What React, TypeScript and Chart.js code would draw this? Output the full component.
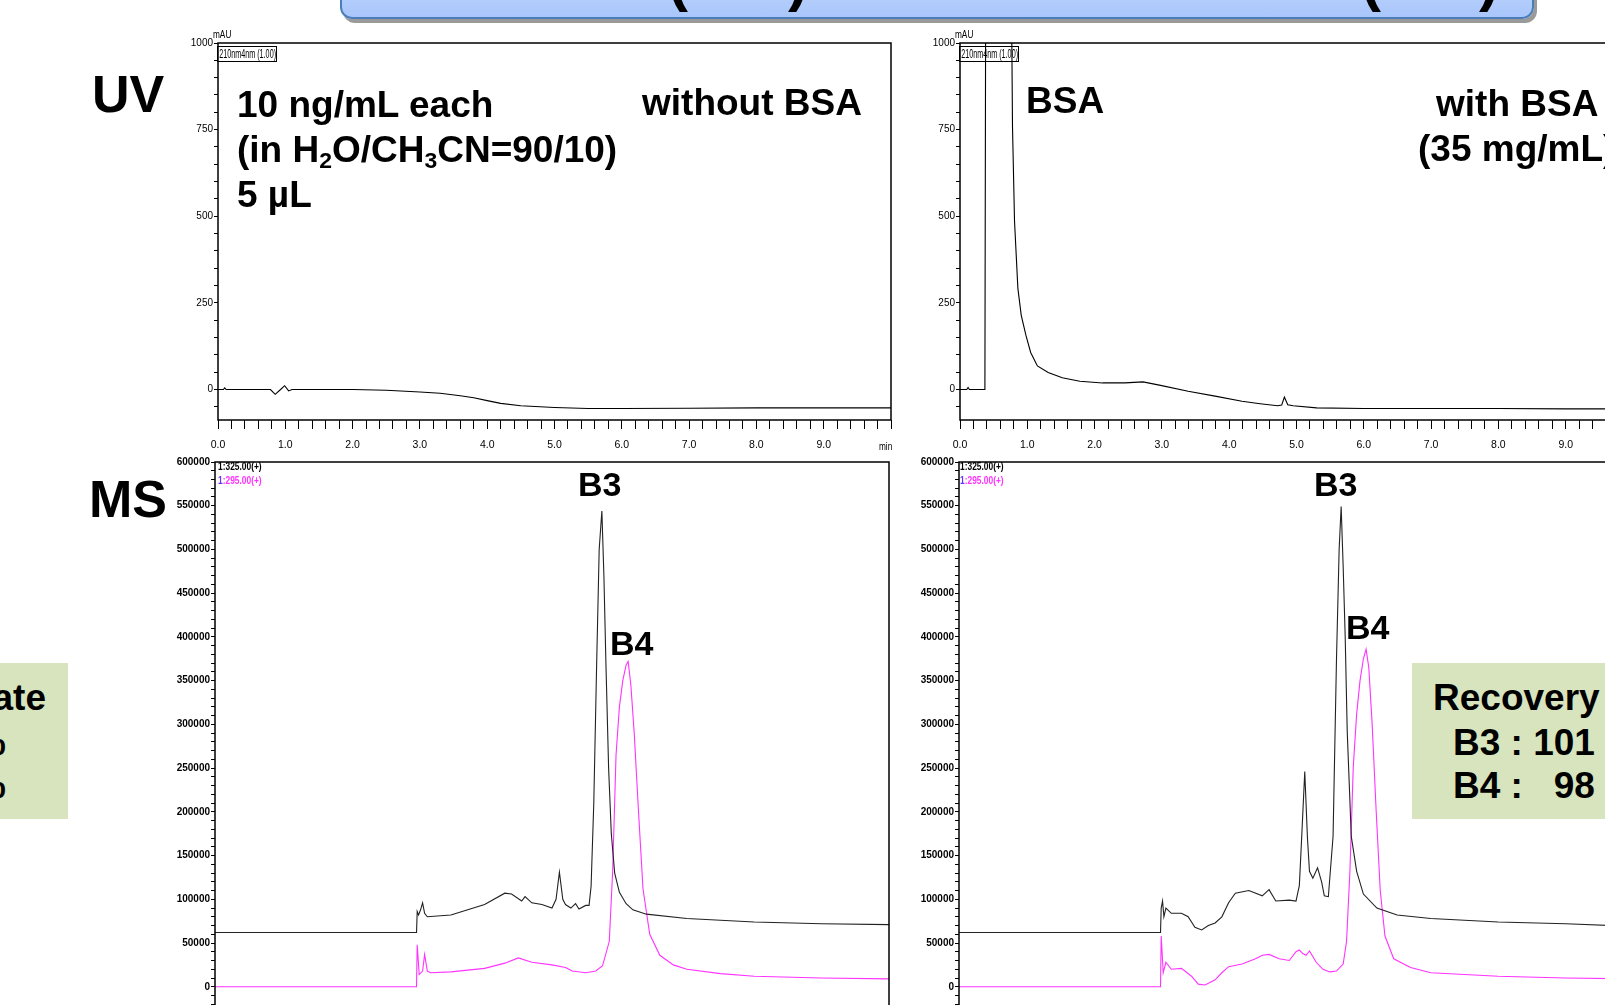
import React, { useEffect, useRef } from 'react';
import { Chart, registerables } from 'chart.js';
Chart.register(...registerables);

// ---------------- DATA ----------------
// UV 210 nm, without BSA (time in min, absorbance in mAU)
const uvNoBsaTime = [0, 0.08, 0.1, 0.12, 0.5, 0.78, 0.85, 0.93, 0.99, 1.05, 1.1, 1.5, 2.0, 2.5, 3.0, 3.3, 3.6, 3.8, 4.0, 4.2, 4.5, 5.0, 5.5, 6.0, 7.0, 8.0, 9.0, 10.0];
const uvNoBsaAbs = [0, 0, 5, 0, 0, 0, -14, 0, 11, -4, 0, 0, 0, -2, -7, -11, -18, -24, -32, -40, -47, -52, -55, -55, -54, -53, -53, -53];

// UV 210 nm, with BSA
const uvBsaTime = [0, 0.1, 0.12, 0.14, 0.37, 0.385, 0.75, 0.78, 0.81, 0.86, 0.91, 0.98, 1.05, 1.15, 1.31, 1.52, 1.78, 2.12, 2.45, 2.72, 2.98, 3.39, 3.79, 4.19, 4.46, 4.72, 4.78, 4.82, 4.87, 4.95, 5.3, 6.0, 7.0, 8.0, 9.0, 10.0];
const uvBsaAbs = [0, 0, 6, 0, 0, 1500, 1500, 760, 486, 292, 214, 156, 107, 68, 49, 34, 24, 19, 19, 22, 12, -5, -19, -34, -41, -47, -45, -22, -44, -47, -53, -55, -55, -55, -56, -56];

// MS, without BSA: m/z 325.00 (B3, black) and m/z 295.00 (B4, magenta)
const msNoBsaB3Time = [0, 2.99, 3.0, 3.02, 3.05, 3.08, 3.11, 3.15, 3.5, 4.0, 4.3, 4.4, 4.55, 4.6, 4.7, 4.85, 5.0, 5.06, 5.11, 5.16, 5.2, 5.28, 5.35, 5.4, 5.5, 5.55, 5.58, 5.62, 5.66, 5.7, 5.74, 5.77, 5.8, 5.84, 5.88, 5.93, 6.0, 6.1, 6.2, 6.4, 7.0, 8.0, 9.0, 10.0];
const msNoBsaB3Int = [62000, 62000, 86000, 82000, 88000, 96000, 84000, 80000, 82000, 94000, 107000, 106000, 98000, 103000, 96000, 94000, 90000, 100000, 131000, 100000, 94000, 90000, 95000, 89000, 93000, 93000, 115000, 210000, 360000, 500000, 544000, 470000, 370000, 250000, 175000, 130000, 108000, 95000, 88000, 83000, 78000, 74000, 72000, 71000];
const msNoBsaB4Time = [0, 2.99, 3.0, 3.03, 3.08, 3.11, 3.15, 3.2, 3.5, 4.0, 4.3, 4.5, 4.7, 5.0, 5.2, 5.3, 5.5, 5.65, 5.75, 5.85, 5.9, 5.95, 6.0, 6.05, 6.1, 6.13, 6.17, 6.22, 6.28, 6.35, 6.45, 6.6, 6.8, 7.0, 7.5, 8.0, 9.0, 10.0];
const msNoBsaB4Int = [0, 0, 48000, 14000, 18000, 37000, 18000, 16000, 17000, 21000, 27000, 33000, 28000, 25000, 22000, 18000, 16000, 18000, 24000, 52000, 132000, 265000, 320000, 350000, 368000, 372000, 345000, 290000, 205000, 112000, 60000, 36000, 25000, 20000, 15000, 12000, 10000, 9000];

// MS, with BSA
const msBsaB3Time = [0, 2.99, 3.0, 3.02, 3.04, 3.07, 3.15, 3.3, 3.4, 3.5, 3.6, 3.7, 3.8, 3.9, 4.0, 4.1, 4.3, 4.5, 4.6, 4.7, 4.9, 5.0, 5.05, 5.09, 5.13, 5.17, 5.2, 5.25, 5.32, 5.38, 5.42, 5.48, 5.55, 5.6, 5.64, 5.67, 5.7, 5.73, 5.76, 5.82, 5.9, 6.0, 6.2, 6.5, 7.0, 8.0, 9.0, 10.0];
const msBsaB3Int = [62000, 62000, 90000, 98000, 80000, 90000, 84000, 84000, 80000, 68000, 65000, 70000, 73000, 80000, 96000, 107000, 110000, 104000, 111000, 98000, 99000, 98000, 116000, 180000, 246000, 170000, 132000, 124000, 136000, 120000, 104000, 103000, 172000, 372000, 500000, 549000, 480000, 400000, 292000, 172000, 132000, 106000, 90000, 82000, 78000, 74000, 72000, 69000];
const msBsaB4Time = [0, 2.99, 3.0, 3.03, 3.07, 3.15, 3.3, 3.45, 3.55, 3.65, 3.8, 3.9, 4.0, 4.2, 4.4, 4.5, 4.6, 4.75, 4.9, 5.0, 5.05, 5.1, 5.15, 5.2, 5.3, 5.4, 5.5, 5.6, 5.7, 5.75, 5.8, 5.85, 5.9, 5.95, 6.0, 6.04, 6.08, 6.13, 6.19, 6.25, 6.32, 6.45, 6.7, 7.0, 8.0, 9.0, 10.0];
const msBsaB4Int = [0, 0, 58000, 16000, 28000, 20000, 21000, 12000, 3000, 2000, 8000, 16000, 23000, 26000, 32000, 36000, 37000, 32000, 30000, 40000, 42000, 38000, 36000, 41000, 28000, 20000, 17000, 18000, 26000, 52000, 132000, 252000, 312000, 350000, 375000, 386000, 365000, 300000, 200000, 110000, 58000, 32000, 22000, 16000, 12000, 10000, 9000];

// Tick labels
const uvXTickLabels = ['0.0', '1.0', '2.0', '3.0', '4.0', '5.0', '6.0', '7.0', '8.0', '9.0'];
const uvYTickLabels = [0, 250, 500, 750, 1000];
const msYTickLabels = [0, 50000, 100000, 150000, 200000, 250000, 300000, 350000, 400000, 450000, 500000, 550000, 600000];

// ---------------- STYLE ----------------
const ARIAL = "'Liberation Sans', Arial, Helvetica, sans-serif";
const MAGENTA = '#ff33ff';
const PAD_T = 10;
const PAD_R = 10;

const framePlugin = {
  id: 'frame',
  afterDraw(chart: any) {
    const { ctx, chartArea: a } = chart;
    ctx.save();
    ctx.strokeStyle = '#000';
    ctx.lineWidth = 1.5;
    ctx.strokeRect(a.left, a.top, a.right - a.left, a.bottom - a.top);
    ctx.restore();
  },
};

type Series = { t: number[]; v: number[]; color: string };
type PanelProps = {
  areaL: number; areaT: number; areaW: number; areaH: number;
  yW: number; xH: number; showX: boolean;
  yMin: number; yMax: number; yStep: number; yLabels: number[];
  yFont: any; series: Series[];
};

function Panel(p: PanelProps) {
  const ref = useRef<HTMLCanvasElement>(null);
  const width = p.yW + p.areaW + PAD_R;
  const height = PAD_T + p.areaH + (p.showX ? p.xH : 2);
  useEffect(() => {
    const c = ref.current!;
    const chart = new Chart(c, {
      type: 'line',
      data: {
        datasets: p.series.map((s) => ({
          data: s.t.map((x, i) => ({ x, y: s.v[i] })),
          borderColor: s.color,
          borderWidth: 1.1,
          pointRadius: 0,
          tension: 0,
          fill: false,
        })),
      },
      options: {
        responsive: false,
        animation: false,
        devicePixelRatio: 1,
        events: [],
        layout: { padding: { top: PAD_T, right: PAD_R, left: 0, bottom: p.showX ? 0 : 2 } },
        plugins: { legend: { display: false }, tooltip: { enabled: false } },
        scales: {
          x: {
            type: 'linear',
            min: 0,
            max: 10,
            display: p.showX,
            afterBuildTicks: (s: any) => {
              const arr = [];
              for (let i = 0; i <= 50; i++) arr.push({ value: Math.round(i * 2) / 10 });
              s.ticks = arr;
            },
            afterFit: (s: any) => { s.height = p.xH; },
            grid: { display: true, drawOnChartArea: false, drawTicks: true, tickLength: 9, tickColor: '#000', color: '#000', lineWidth: 1 },
            border: { display: false },
            ticks: {
              autoSkip: false,
              maxRotation: 0,
              minRotation: 0,
              padding: 10,
              color: '#000',
              font: { family: ARIAL, size: 10.5 },
              callback: (v: any) => {
                const n = Math.round(v);
                return Math.abs(v - n) < 1e-6 && n < uvXTickLabels.length ? uvXTickLabels[n] : '';
              },
            },
          },
          y: {
            type: 'linear',
            min: p.yMin,
            max: p.yMax,
            afterBuildTicks: (s: any) => {
              const arr = [];
              for (let v = Math.ceil(p.yMin / p.yStep) * p.yStep; v <= p.yMax + 1e-9; v += p.yStep) arr.push({ value: v });
              s.ticks = arr;
            },
            afterFit: (s: any) => { s.width = p.yW; },
            grid: { display: true, drawOnChartArea: false, drawTicks: true, tickLength: 4, tickColor: '#000', color: '#000', lineWidth: 1 },
            border: { display: false },
            ticks: {
              autoSkip: false,
              padding: 1,
              color: '#000',
              font: p.yFont,
              callback: (v: any) => (p.yLabels.includes(v) ? String(v) : ''),
            },
          },
        },
      } as any,
      plugins: [framePlugin],
    });
    return () => chart.destroy();
  }, []);
  return (
    <canvas
      ref={ref}
      width={width}
      height={height}
      style={{ position: 'absolute', left: p.areaL - p.yW, top: p.areaT - PAD_T, width, height }}
    />
  );
}

const T = ({ x, y, s, c = '#000', w = 700, f = ARIAL, right, sx, children }: any) => (
  <div
    style={{
      position: 'absolute',
      ...(right !== undefined ? { right: 1605 - right } : { left: x }),
      top: y - s / 2,
      fontSize: s,
      lineHeight: `${s}px`,
      fontWeight: w,
      fontFamily: f,
      color: c,
      whiteSpace: 'pre',
      ...(sx ? { transform: `scaleX(${sx})`, transformOrigin: 'left center' } : {}),
    }}
  >
    {children}
  </div>
);

const Sub = ({ children }: any) => (
  <span style={{ fontSize: '0.62em', verticalAlign: '-0.28em', lineHeight: 0 }}>{children}</span>
);

const Paren = ({ x, ch }: any) => (
  <div style={{ position: 'absolute', left: x, top: -50, fontSize: 60, lineHeight: '60px', fontWeight: 700, fontFamily: ARIAL, color: '#000' }}>{ch}</div>
);

const WaveBox = ({ x }: any) => (
  <div style={{ position: 'absolute', left: x, top: 46, width: 60, height: 16, border: '1px solid #000', boxSizing: 'border-box', overflow: 'hidden' }}>
    <div style={{ fontFamily: ARIAL, fontSize: 12, lineHeight: '14px', whiteSpace: 'pre', transform: 'scaleX(0.6)', transformOrigin: 'left center', paddingLeft: 2 }}>210nm4nm (1.00)</div>
  </div>
);

const UV_Y = { family: ARIAL, size: 10 };
const MS_Y = { family: ARIAL, size: 10, weight: 'bold' };

export default function App() {
  return (
    <div style={{ position: 'fixed', left: 0, top: 0, width: 1605, height: 1005, overflow: 'hidden', background: '#fff' }}>
      {/* title banner (cut off at top) */}
      <div
        style={{
          position: 'absolute', left: 340, top: -60, width: 1190, height: 75,
          background: 'linear-gradient(#d2e2fd, #a9c6fb)', border: '2px solid #4a7ebb',
          borderRadius: 12, boxShadow: '3px 4px 0 #9a9a9a',
        }}
      />
      <Paren x={668} ch="(" />
      <Paren x={788} ch=")" />
      <Paren x={1361} ch="(" />
      <Paren x={1479} ch=")" />

      <Panel areaL={218} areaT={43} areaW={673} areaH={377} yW={45} xH={34} showX={true}
        yMin={-88} yMax={1000} yStep={50} yLabels={uvYTickLabels} yFont={UV_Y}
        series={[{ t: uvNoBsaTime, v: uvNoBsaAbs, color: '#000' }]} />
      <Panel areaL={960} areaT={43} areaW={673} areaH={377} yW={45} xH={34} showX={true}
        yMin={-88} yMax={1000} yStep={50} yLabels={uvYTickLabels} yFont={UV_Y}
        series={[{ t: uvBsaTime, v: uvBsaAbs, color: '#000' }]} />
      <Panel areaL={215} areaT={462} areaW={674} areaH={556} yW={50} xH={0} showX={false}
        yMin={-30000} yMax={600000} yStep={10000} yLabels={msYTickLabels} yFont={MS_Y}
        series={[{ t: msNoBsaB3Time, v: msNoBsaB3Int, color: '#222' }, { t: msNoBsaB4Time, v: msNoBsaB4Int, color: MAGENTA }]} />
      <Panel areaL={959} areaT={462} areaW={674} areaH={556} yW={50} xH={0} showX={false}
        yMin={-30000} yMax={600000} yStep={10000} yLabels={msYTickLabels} yFont={MS_Y}
        series={[{ t: msBsaB3Time, v: msBsaB3Int, color: '#222' }, { t: msBsaB4Time, v: msBsaB4Int, color: MAGENTA }]} />

      {/* small chromatogram annotations */}
      <T x={213} y={34} s={11} w={400} sx={0.75}>mAU</T>
      <T x={955} y={34} s={11} w={400} sx={0.75}>mAU</T>
      <WaveBox x={217} />
      <WaveBox x={959} />
      <T x={879} y={446} s={11} w={400} sx={0.75}>min</T>
      <T x={218} y={466} s={10.5} sx={0.8}>1:325.00(+)</T>
      <T x={218} y={480} s={10.5} sx={0.8} c={MAGENTA}><span style={{ color: '#6633ff' }}>1</span>:295.00(+)</T>
      <T x={960} y={466} s={10.5} sx={0.8}>1:325.00(+)</T>
      <T x={960} y={480} s={10.5} sx={0.8} c={MAGENTA}><span style={{ color: '#6633ff' }}>1</span>:295.00(+)</T>

      {/* big labels */}
      <T x={92} y={94} s={52}>UV</T>
      <T x={89} y={499} s={52}>MS</T>
      <T x={237} y={104} s={37}>10 ng/mL each</T>
      <T x={237} y={149} s={37}>(in H<Sub>2</Sub>O/CH<Sub>3</Sub>CN=90/10)</T>
      <T x={237} y={194} s={37}>5 µL</T>
      <T x={642} y={102} s={37}>without BSA</T>
      <T x={1026} y={100} s={37}>BSA</T>
      <T x={1436} y={103} s={37}>with BSA</T>
      <T x={1418} y={148} s={37}>(35 mg/mL)</T>
      <T x={578} y={484} s={34}>B3</T>
      <T x={610} y={643} s={34}>B4</T>
      <T x={1314} y={484} s={34}>B3</T>
      <T x={1346} y={627} s={34}>B4</T>

      {/* recovery boxes */}
      <div style={{ position: 'absolute', left: -300, top: 663, width: 368, height: 156, background: '#d7e4bd' }} />
      <T right={46} y={697} s={37}>Recovery rate</T>
      <T right={6} y={742} s={37}>B3 : 100 %</T>
      <T right={6} y={785} s={37}>B4 : 100 %</T>
      <div style={{ position: 'absolute', left: 1412, top: 663, width: 300, height: 156, background: '#d7e4bd' }} />
      <T x={1433} y={697} s={37}>Recovery rate</T>
      <T x={1453} y={742} s={37}>B3 : 101 %</T>
      <T x={1453} y={785} s={37}>{'B4 :   98 %'}</T>
    </div>
  );
}
